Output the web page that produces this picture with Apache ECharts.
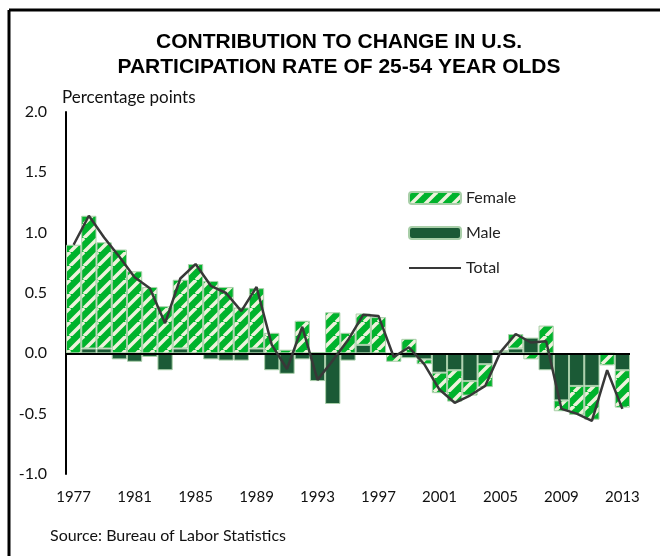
<!DOCTYPE html>
<html>
<head>
<meta charset="utf-8">
<script src="https://cdn.jsdelivr.net/npm/echarts@6/dist/echarts.min.js"></script>
<style>
  html, body { margin: 0; padding: 0; background: #fff; }
  #chart { width: 660px; height: 556px; }
</style>
</head>
<body>
<div id="chart"></div>
<script>
// 年份
const years = []
for (let y = 1977; y <= 2013; y++) years.push(String(y))

// female contribution (percentage points)
const female = [
  0.90, 1.10, 0.88, 0.86, 0.68, 0.55, 0.39, 0.57, 0.74, 0.60,
  0.55, 0.38, 0.50, 0.17, 0.03, 0.27, 0.01, 0.34, 0.17, 0.26,
  0.30, -0.07, 0.12, -0.04, -0.17, -0.26, -0.12, -0.19, 0.00, 0.12,
  -0.05, 0.23, -0.09, -0.24, -0.28, -0.10, -0.31,
]
// male contribution
const male = [
  0.00, 0.04, 0.04, -0.05, -0.07, -0.03, -0.14, 0.04, 0.00, -0.05,
  -0.06, -0.06, 0.04, -0.14, -0.17, -0.05, -0.23, -0.42, -0.06, 0.07,
  0.00, 0.00, -0.04, -0.05, -0.16, -0.14, -0.23, -0.09, 0.02, 0.04,
  0.13, -0.14, -0.39, -0.27, -0.27, 0.00, -0.14,
]
// total change
const total = [
  0.90, 1.14, 0.96, 0.80, 0.63, 0.54, 0.25, 0.62, 0.74, 0.56,
  0.50, 0.35, 0.55, 0.07, -0.13, 0.22, -0.22, -0.06, 0.11, 0.32,
  0.31, -0.03, 0.05, -0.09, -0.30, -0.41, -0.35, -0.27, 0.01, 0.16,
  0.09, 0.10, -0.46, -0.50, -0.56, -0.14, -0.46,
]

const FONT = 'Lato'

// 斜线填充
function makeHatch() {
  const s = 14
  const c = document.createElement('canvas')
  c.width = s
  c.height = s
  const g = c.getContext('2d')
  g.fillStyle = '#00b32c'
  g.fillRect(0, 0, s, s)
  g.strokeStyle = '#eef2dc'
  g.lineWidth = 3.5
  for (let k = -1; k <= 1; k++) {
    g.beginPath()
    g.moveTo(k * s, s)
    g.lineTo(k * s + s, 0)
    g.stroke()
  }
  return c
}

const chart = echarts.init(document.getElementById('chart'))
const option = {
  backgroundColor: '#fff',
  animation: false,
  grid: { left: 66, right: 30, top: 112, bottom: 82 },
  legend: {
    data: ['Female', 'Male', { name: 'Total', itemStyle: { opacity: 0 } }],
    orient: 'vertical',
    left: 403,
    top: 185,
    itemWidth: 52,
    itemHeight: 12,
    itemGap: 19,
    textStyle: { fontFamily: FONT, fontSize: 16, color: '#222' },
  },
  xAxis: {
    type: 'category',
    data: years,
    axisLine: { show: false, onZero: false },
    axisTick: { show: false },
    axisLabel: {
      interval: 3,
      margin: 16,
      fontFamily: FONT,
      fontSize: 15,
      color: '#111',
    },
  },
  yAxis: {
    type: 'value',
    min: -1,
    max: 2,
    interval: 0.5,
    name: 'Percentage points',
    nameLocation: 'end',
    nameGap: 6,
    nameTextStyle: {
      align: 'left',
      padding: [0, 0, 0, -4],
      fontFamily: FONT,
      fontSize: 17,
      color: '#111',
    },
    axisLine: { show: true, lineStyle: { color: '#000', width: 2 } },
    axisTick: { show: false },
    splitLine: { show: false },
    axisLabel: {
      margin: 19,
      fontFamily: FONT,
      fontSize: 16,
      color: '#111',
      formatter: v => v.toFixed(1),
    },
  },
  series: [
    {
      name: 'Male',
      type: 'bar',
      stack: 'c',
      barCategoryGap: '0%',
      data: male,
      itemStyle: { color: '#1b5a36', borderColor: '#a9cfa9', borderWidth: 1 },
    },
    {
      name: 'Female',
      type: 'bar',
      stack: 'c',
      barCategoryGap: '0%',
      data: female,
      itemStyle: {
        color: { image: makeHatch(), repeat: 'repeat' },
        borderColor: '#a9cfa9',
        borderWidth: 1,
      },
    },
    {
      name: 'Total',
      type: 'line',
      data: total,
      symbol: 'none',
      z: 5,
      lineStyle: { color: '#383838', width: 2.5 },
      itemStyle: { color: '#383838' },
      markLine: {
        silent: true,
        symbol: 'none',
        label: { show: false },
        lineStyle: { color: '#000', width: 2, type: 'solid' },
        data: [{ yAxis: 0 }],
      },
    },
  ],
  graphic: [
    {
      type: 'text',
      x: 339,
      y: 30,
      style: {
        text: 'CONTRIBUTION TO CHANGE IN U.S.\nPARTICIPATION RATE OF 25-54 YEAR OLDS',
        fontFamily: 'Liberation Sans',
        fontWeight: 'bold',
        fontSize: 21,
        lineHeight: 25,
        align: 'center',
        fill: '#000',
      },
    },
    {
      type: 'text',
      left: 50,
      top: 528,
      style: {
        text: 'Source: Bureau of Labor Statistics',
        fontFamily: FONT,
        fontSize: 16,
        fill: '#111',
      },
    },
    {
      type: 'line',
      shape: { x1: 9, y1: 10, x2: 660, y2: 10 },
      style: { stroke: '#000', lineWidth: 3 },
    },
    {
      type: 'line',
      shape: { x1: 9, y1: 10, x2: 9, y2: 556 },
      style: { stroke: '#000', lineWidth: 3 },
    },
  ],
}
chart.setOption(option)
</script>
</body>
</html>
